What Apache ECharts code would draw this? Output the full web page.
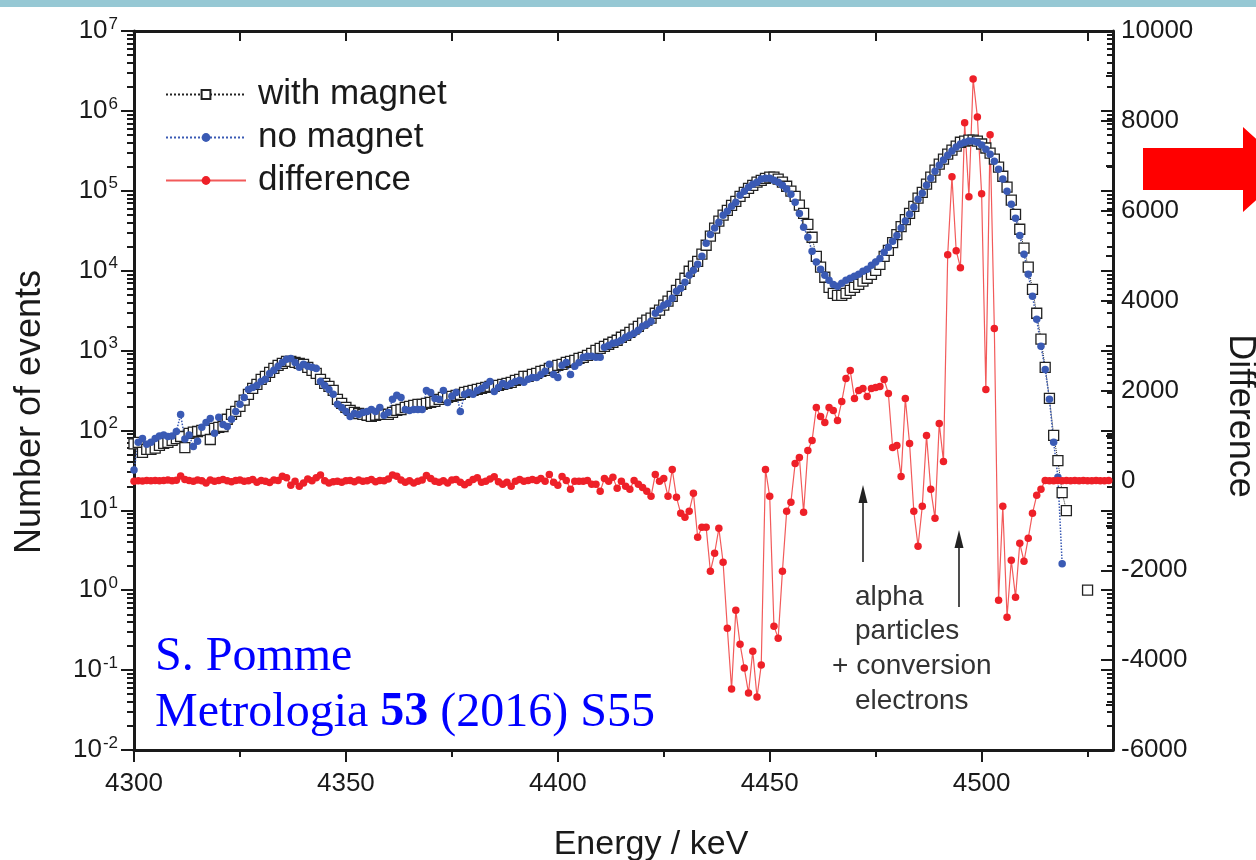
<!DOCTYPE html>
<html>
<head>
<meta charset="utf-8">
<title>Alpha spectrum with and without magnet</title>
<script src="https://cdn.jsdelivr.net/npm/echarts@6/dist/echarts.min.js"></script>
<style>
  html, body { margin: 0; padding: 0; background: #fff; }
  #main { width: 1256px; height: 860px; }
</style>
</head>
<body>
<div id="main"></div>
<script>
// channels are 1 keV wide, first one at 4300 keV
var eStart = 4300;
var eMin = 4300, eMax = 4531;

// counts per channel, with magnet (null = empty channel)
var withMagnet = [
  68,71,53,58,58,60,65,69,71,75,
  79,84,61,92,95,97,100,100,77,106,
  109,112,138,159,173,200,240,283,336,377,
  436,476,533,599,653,692,733,733,711,692,
  672,616,565,518,436,388,356,317,245,218,
  194,178,168,163,159,155,150,155,159,159,
  159,168,178,183,194,200,206,212,212,218,
  224,231,245,259,259,267,275,283,299,308,
  317,326,336,346,356,356,366,377,388,400,
  424,436,475,475,503,518,549,565,598,616,
  653,672,711,733,755,800,823,872,924,1007,
  1067,1131,1199,1270,1346,1467,1555,1690,1850,2010,
  2200,2400,2540,2930,3200,3700,4150,4780,5670,6730,
  8040,9830,11400,13100,16100,20800,27000,34100,41700,49500,
  57000,65800,73800,85200,95600,107000,117000,128000,135000,143000,
  148000,148000,140000,128000,114000,99000,85000,66000,52000,38000,
  26200,15100,11100,8270,6190,5200,4900,4900,5200,5670,
  6190,6730,7380,8040,9010,10100,12000,15100,17900,22500,
  28300,35600,43600,52000,63900,80800,95600,121000,148000,181000,
  215000,249000,287000,323000,362000,405000,419000,430000,430000,419000,
  385000,343000,296000,249000,198000,152000,111000,76300,50700,33000,
  19100,11100,5840,2930,1390,616,252,87,42,16.7,
  9.9,null,null,null,null,1
];

// counts per channel, no magnet
var noMagnet = [
  32,71,79,67,71,79,85,88,84,85,
  97,158,78,88,63,73,110,126,141,92,
  146,119,112,138,173,212,259,326,346,366,
  411,436,518,565,634,711,776,798,711,616,
  672,634,616,598,411,366,326,283,212,194,
  173,150,163,158,168,173,183,173,194,155,
  168,245,275,259,183,178,183,183,183,317,
  299,252,245,317,224,267,299,173,283,299,
  283,317,336,366,411,308,346,388,366,388,
  411,424,400,436,461,461,503,549,672,503,
  461,653,711,503,634,711,823,847,847,823,
  823,1100,1160,1230,1270,1346,1467,1555,1650,1800,
  2010,2130,2330,2930,3290,3700,3920,4510,5520,6010,
  7160,8770,10100,12000,15100,22000,28300,34100,40500,49500,
  55400,63900,72000,87700,99000,111000,121000,128000,140000,143000,
  143000,135000,128000,117000,105000,90400,72000,52000,35000,26200,
  17500,12800,10400,8770,7600,6730,6370,6950,7600,8040,
  8520,9010,9830,10400,11700,12800,14200,17000,19700,23300,
  27600,34100,41700,50700,62000,78500,93000,117000,143000,176000,
  209000,242000,279000,314000,352000,385000,405000,419000,419000,405000,
  373000,332000,287000,235000,186000,140000,99000,68000,45300,27600,
  16100,9010,4780,2460,1130,581,245,71,26,2.15
];

// with magnet minus no magnet (right axis)
var difference = [
  -20,-10,-15,-5,-10,0,-10,-5,10,-10,
  5,100,20,-5,-20,10,-10,-60,10,-20,
  0,20,-10,-30,0,10,-20,-10,20,-40,
  0,-20,-50,10,0,90,60,-110,-20,-130,
  -60,30,-10,60,120,-10,-60,-30,-20,-40,
  -10,0,-30,10,-20,-10,20,-30,0,-10,
  30,120,90,10,-40,-10,-60,-20,10,110,
  40,-20,-40,-10,-60,10,20,-40,-100,-50,
  20,60,-40,-20,30,80,-30,-89,-44,-133,
  -22,22,-22,0,22,0,44,-22,133,-44,
  -111,89,0,-200,-22,-22,-22,0,-89,-89,
  -244,44,-22,67,-178,-22,-133,-200,0,-89,
  -156,-244,-356,133,-22,44,-356,244,-378,-733,
  -822,-689,-289,-1267,-1044,-1044,-2022,-1622,-1067,-1822,
  -3289,-4644,-2889,-3644,-4178,-4733,-3800,-4822,-4111,244,
  -356,-3244,-3511,-2022,-689,-489,378,511,-711,667,
  889,1622,1422,1289,1622,1556,1333,1756,2267,2444,
  1822,2000,2044,1867,2044,2067,2089,2244,1933,733,
  778,89,1822,822,-689,-1467,-578,1000,-200,-844,
  1267,422,5022,6756,5111,4733,7956,6311,8933,8089,
  6378,2022,7689,3378,-2667,-578,-3044,-1778,-2600,-1400,
  -1800,-1289,-733,-333,-200,0,-10,-10,-5,-10,
  -5,-10,-5,-10,-5,-10,-10,-5,-10,-10,-5
];

var xMajor = [4300, 4350, 4400, 4450, 4500];
var xMinor = [4325, 4375, 4425, 4475, 4525];
var xTop = [4325, 4350, 4375, 4400, 4425, 4450, 4475, 4500, 4525];

function toPairs(arr) {
  return arr.map(function (v, i) { return [eStart + i, v]; });
}

// minor ticks of the log axis (2..9 in each decade), in decade units
var logMinor = [];
for (var d = -2; d < 7; d++) {
  for (var m = 2; m <= 9; m++) logMinor.push(d + Math.log10(m));
}

var FONT = '"Liberation Sans", Arial, sans-serif';
var SERIF = '"Liberation Serif", "Times New Roman", serif';
var INK = '#1a1a1a';

var chart = echarts.init(document.getElementById('main'));

var option = {
  animation: false,
  backgroundColor: '#fff',
  grid: { left: 134, right: 143, top: 31, bottom: 110 },
  legend: {
    orient: 'vertical',
    left: 165,
    top: 77,
    itemWidth: 80,
    itemHeight: 11,
    itemGap: 8,
    padding: 0,
    textStyle: { fontFamily: FONT, fontSize: 35, color: INK, lineHeight: 35, padding: [0, 0, 0, 7] },
    data: ['with magnet', 'no magnet', 'difference']
  },
  xAxis: [
    {
      type: 'value', min: eMin, max: eMax, position: 'bottom',
      axisLine: { onZero: false, lineStyle: { color: INK, width: 3 } },
      axisTick: { customValues: xMajor, length: 12, lineStyle: { color: INK, width: 2 } },
      axisLabel: {
        customValues: xMajor, margin: 21, fontFamily: FONT, fontSize: 26, color: INK,
        formatter: function (v) { return String(v); }
      },
      splitLine: { show: false }
    },
    {
      type: 'value', min: eMin, max: eMax, position: 'bottom',
      axisLine: { show: false, onZero: false },
      axisTick: { customValues: xMinor, length: 7, lineStyle: { color: INK, width: 2 } },
      axisLabel: { show: false },
      splitLine: { show: false }
    },
    {
      type: 'value', min: eMin, max: eMax, position: 'top',
      axisLine: { onZero: false, lineStyle: { color: INK, width: 3 } },
      axisTick: { customValues: xTop, inside: true, length: 10, lineStyle: { color: INK, width: 2 } },
      axisLabel: { show: false },
      splitLine: { show: false }
    }
  ],
  yAxis: [
    { // data axis for the counts
      type: 'log', logBase: 10, min: 0.01, max: 1e7, position: 'left',
      axisLine: { onZero: false, lineStyle: { color: INK, width: 3 } },
      axisTick: { show: false },
      axisLabel: { show: false },
      splitLine: { show: false }
    },
    { // difference axis
      type: 'value', min: -6000, max: 10000, interval: 2000, position: 'right',
      axisLine: { show: true, onZero: false, lineStyle: { color: INK, width: 3 } },
      axisTick: { inside: true, length: 12, lineStyle: { color: INK, width: 2 } },
      minorTick: { show: true, splitNumber: 2, length: 7, lineStyle: { color: INK, width: 2 } },
      axisLabel: {
        margin: 8, fontFamily: FONT, fontSize: 26, color: INK,
        formatter: function (v) { return String(v); }
      },
      splitLine: { show: false }
    },
    { // decade labels and ticks, left
      type: 'value', min: -2, max: 7, interval: 1, position: 'left',
      axisLine: { show: false, onZero: false },
      axisTick: { length: 13, lineStyle: { color: INK, width: 2 } },
      axisLabel: {
        margin: 16, color: INK,
        formatter: function (v) { return '{b|10}{s|' + v + '}'; },
        rich: {
          b: { fontFamily: FONT, fontSize: 26, color: INK },
          s: { fontFamily: FONT, fontSize: 17, color: INK, padding: [0, 0, 14, 1] }
        }
      },
      splitLine: { show: false }
    },
    { // minor log ticks, left
      type: 'value', min: -2, max: 7, position: 'left',
      axisLine: { show: false, onZero: false },
      axisTick: { customValues: logMinor, length: 7, lineStyle: { color: INK, width: 2 } },
      axisLabel: { show: false },
      splitLine: { show: false }
    },
    { // mirrored decade ticks, right
      type: 'value', min: -2, max: 7, interval: 1, position: 'right',
      axisLine: { show: false, onZero: false },
      axisTick: { inside: true, length: 12, lineStyle: { color: INK, width: 2 } },
      axisLabel: { show: false },
      splitLine: { show: false }
    },
    { // mirrored minor log ticks, right
      type: 'value', min: -2, max: 7, position: 'right',
      axisLine: { show: false, onZero: false },
      axisTick: { customValues: logMinor, inside: true, length: 6, lineStyle: { color: INK, width: 2 } },
      axisLabel: { show: false },
      splitLine: { show: false }
    }
  ],
  series: [
    {
      name: 'with magnet', type: 'line', xAxisIndex: 0, yAxisIndex: 0,
      data: toPairs(withMagnet),
      symbol: 'rect', symbolSize: 10,
      itemStyle: { color: '#fff', borderColor: '#222', borderWidth: 1.3 },
      lineStyle: { color: '#222', type: 'dotted', width: 1 }
    },
    {
      name: 'no magnet', type: 'line', xAxisIndex: 0, yAxisIndex: 0,
      data: toPairs(noMagnet),
      symbol: 'circle', symbolSize: 7.5,
      itemStyle: { color: '#3a5ab4', borderWidth: 0 },
      lineStyle: { color: '#3a5ab4', type: 'dotted', width: 1.5 }
    },
    {
      name: 'difference', type: 'line', xAxisIndex: 0, yAxisIndex: 1,
      data: toPairs(difference),
      symbol: 'circle', symbolSize: 7.5,
      itemStyle: { color: '#ee2028', borderWidth: 0 },
      lineStyle: { color: '#f25a5a', width: 1.2 }
    }
  ],
  graphic: [
    { type: 'rect', shape: { x: 0, y: 0, width: 1256, height: 7 }, style: { fill: '#96c8d4' }, silent: true },
    { // red block arrow at the right edge
      type: 'polygon', silent: true,
      shape: { points: [[1143, 148], [1243, 148], [1243, 127], [1290, 169.5], [1243, 212], [1243, 190], [1143, 190]] },
      style: { fill: '#ff0000' }
    },
    {
      type: 'text', x: 30, y: 412, rotation: Math.PI / 2,
      style: { text: 'Number of events', font: '36px ' + FONT, fill: INK, align: 'center', verticalAlign: 'middle' }
    },
    {
      type: 'text', x: 1240, y: 416, rotation: -Math.PI / 2,
      style: { text: 'Difference', font: '36px ' + FONT, fill: INK, align: 'center', verticalAlign: 'middle' }
    },
    {
      type: 'text', x: 651, y: 845,
      style: { text: 'Energy / keV', font: '34px ' + FONT, fill: INK, align: 'center', verticalAlign: 'middle' }
    },
    {
      type: 'text', x: 155, y: 657,
      style: { text: 'S. Pomme', font: '48px ' + SERIF, fill: '#0000ff', verticalAlign: 'middle' }
    },
    {
      type: 'text', x: 155, y: 713,
      style: {
        text: '{n|Metrologia }{b|53}{n| (2016) S55}',
        verticalAlign: 'middle',
        rich: {
          n: { fontFamily: SERIF, fontSize: 48, fill: '#0000ff', color: '#0000ff' },
          b: { fontFamily: SERIF, fontSize: 48, fontWeight: 'bold', fill: '#0000ff', color: '#0000ff' }
        }
      }
    },
    { type: 'text', x: 855, y: 597, style: { text: 'alpha', font: '28px ' + FONT, fill: '#333', verticalAlign: 'middle' } },
    { type: 'text', x: 855, y: 631, style: { text: 'particles', font: '28px ' + FONT, fill: '#333', verticalAlign: 'middle' } },
    { type: 'text', x: 832, y: 666, style: { text: '+ conversion', font: '28px ' + FONT, fill: '#333', verticalAlign: 'middle' } },
    { type: 'text', x: 855, y: 701, style: { text: 'electrons', font: '28px ' + FONT, fill: '#333', verticalAlign: 'middle' } },
    { type: 'line', shape: { x1: 863, y1: 562, x2: 863, y2: 498 }, style: { stroke: '#222', lineWidth: 1.6 } },
    { type: 'polygon', shape: { points: [[863, 485], [858.5, 503], [867.5, 503]] }, style: { fill: '#222' } },
    { type: 'line', shape: { x1: 959, y1: 607, x2: 959, y2: 543 }, style: { stroke: '#222', lineWidth: 1.6 } },
    { type: 'polygon', shape: { points: [[959, 530], [954.5, 548], [963.5, 548]] }, style: { fill: '#222' } }
  ]
};

chart.setOption(option);
</script>
</body>
</html>
